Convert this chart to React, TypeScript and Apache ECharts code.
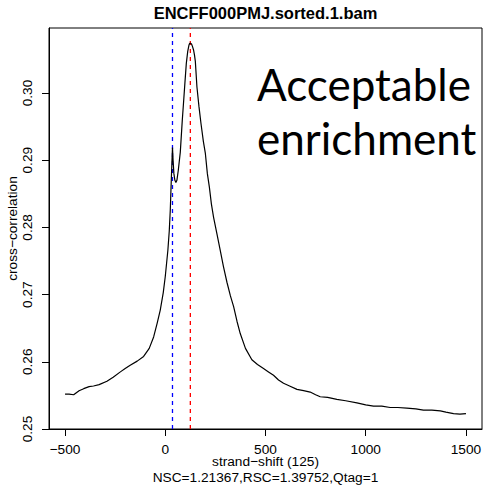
import React, { useEffect, useRef } from "react";
import * as echarts from "echarts";

const titleText = "ENCFF000PMJ.sorted.1.bam";
const xTitle = "strand\u2212shift (125)";
const xSubTitle = "NSC=1.21367,RSC=1.39752,Qtag=1";
const yTitle = "cross\u2212correlation";
const noteLines = ["Acceptable", "enrichment"];

const xTicks = [-500, 0, 500, 1000, 1500];
const yTicks = [0.25, 0.26, 0.27, 0.28, 0.29, 0.3];

const yMin = 0.25;
const yMax = 0.30967;

const readLength = 36;
const fragmentLength = 125;

const shifts = [
  -500, -480, -457, -430, -407, -380, -358, -330, -291, -260, -224, -200, -175, -140, -108, -80, -58, -40, -25, -10,
  0, 13, 20, 25, 30, 33, 36, 39, 43, 48, 53, 58, 65, 75, 85, 91, 98, 105, 112, 118, 122, 126, 131, 136, 141, 146,
  150, 158, 168, 178, 190, 200, 210, 220, 230, 241, 258, 274, 290, 308, 325, 341, 358, 374, 400, 432, 460, 490, 515,
  540, 565, 590, 620, 657, 690, 723, 750, 773, 810, 856, 900, 956, 1000, 1039, 1080, 1122, 1160, 1205, 1250, 1288,
  1330, 1372, 1400, 1438, 1470, 1500,
];

const correlations = [
  0.2552, 0.2552, 0.2551, 0.2557, 0.256, 0.2563, 0.2564, 0.2566, 0.2571, 0.2577, 0.2585, 0.259, 0.2595, 0.2601,
  0.2608, 0.262, 0.2637, 0.2658, 0.2677, 0.2703,
  0.2727, 0.2766, 0.2795, 0.2826, 0.287, 0.2895, 0.2919, 0.29, 0.288, 0.287, 0.2867, 0.287, 0.2885, 0.2912, 0.296,
  0.2985, 0.3015, 0.3044, 0.3062, 0.3071, 0.3074, 0.3074, 0.3073, 0.3069, 0.3064, 0.3056,
  0.3047, 0.3009, 0.298, 0.2955, 0.2928, 0.291, 0.288, 0.286, 0.2835, 0.2815, 0.279, 0.2766, 0.2742, 0.2718, 0.2698,
  0.2682, 0.266, 0.2642, 0.262, 0.2603, 0.2596, 0.259, 0.2585,
  0.258, 0.2573, 0.2568, 0.2564, 0.2559, 0.2557, 0.2555, 0.2551, 0.2548, 0.2547, 0.2544, 0.2542, 0.2539, 0.2536,
  0.2534, 0.2534, 0.2532, 0.2532, 0.2531, 0.253, 0.2528,
  0.2528, 0.2527, 0.2525, 0.2523, 0.2522, 0.2523,
];

const FONT = "'Liberation Sans', Arial, Helvetica, sans-serif";
const NOTE_FONT = "Lato, 'Open Sans', sans-serif";

export default function App() {
  const ref = useRef<HTMLDivElement>(null);
  useEffect(() => {
    if (!ref.current) return;
    const chart = echarts.init(ref.current, null, { renderer: "svg" });
    const data = shifts.map((s, i) => [s, correlations[i]]);
    const vline = (x: number, color: string) => ({
      type: "line",
      data: [
        [x, yMin],
        [x, yMax],
      ],
      symbol: "none",
      showSymbol: false,
      silent: true,
      z: 1,
      color,
      itemStyle: { color },
      lineStyle: { color, type: [4, 4], width: 1.3 },
    });
    chart.setOption({
      animation: false,
      backgroundColor: "#ffffff",
      title: {
        text: titleText,
        left: 265.5,
        top: 4,
        textAlign: "center",
        padding: 0,
        textStyle: { fontFamily: FONT, fontSize: 16.5, fontWeight: "bold", color: "#000" },
      },
      grid: {
        left: 49,
        right: 2,
        top: 28,
        bottom: 59,
        containLabel: false,
        outerBoundsMode: "none",
        show: true,
        borderColor: "#000",
        borderWidth: 1,
        backgroundColor: "transparent",
      },
      xAxis: {
        type: "value",
        min: -580,
        max: 1580,
        name: xTitle + "\n" + xSubTitle,
        nameLocation: "middle",
        nameMoveOverlap: false,
        nameGap: 24,
        nameTextStyle: { fontFamily: FONT, fontSize: 13.7, color: "#000", lineHeight: 16 },
        axisLine: { show: true, onZero: false, lineStyle: { color: "#000", width: 1 } },
        axisTick: { show: true, length: 7, customValues: xTicks, lineStyle: { color: "#000" } },
        axisLabel: {
          show: true,
          customValues: xTicks,
          margin: 13,
          fontFamily: FONT,
          fontSize: 13.7,
          color: "#000",
          formatter: (v: number) => String(v).replace("-", "\u2212"),
          showMinLabel: true,
          showMaxLabel: true,
        },
        splitLine: { show: false },
      },
      yAxis: {
        type: "value",
        min: yMin,
        max: yMax,
        name: yTitle,
        nameLocation: "middle",
        nameMoveOverlap: false,
        nameGap: 30,
        nameRotate: 90,
        nameTextStyle: { fontFamily: FONT, fontSize: 13.7, color: "#000" },
        axisLine: { show: true, onZero: false, lineStyle: { color: "#000", width: 1 } },
        axisTick: { show: true, length: 7, customValues: yTicks, lineStyle: { color: "#000" } },
        axisLabel: {
          show: true,
          customValues: yTicks,
          rotate: 90,
          margin: 15,
          fontFamily: FONT,
          fontSize: 13.7,
          color: "#000",
          formatter: (v: number) => v.toFixed(2),
          showMinLabel: true,
          showMaxLabel: true,
        },
        splitLine: { show: false },
      },
      series: [
        vline(readLength, "#0000ff"),
        vline(fragmentLength, "#ff0000"),
        {
          type: "line",
          data,
          showSymbol: false,
          symbol: "none",
          smooth: false,
          z: 2,
          color: "#000",
          lineStyle: { color: "#000", width: 1.2 },
        },
      ],
      graphic: [
        {
          type: "text",
          left: 257,
          top: 62,
          z: 10,
          style: { text: noteLines[0], fontFamily: NOTE_FONT, fontSize: 44, fill: "#000" },
        },
        {
          type: "text",
          left: 257,
          top: 116,
          z: 10,
          style: { text: noteLines[1], fontFamily: NOTE_FONT, fontSize: 44, fill: "#000" },
        },
      ],
    });
    return () => chart.dispose();
  }, []);
  return (
    <div
      ref={ref}
      style={{ position: "fixed", left: 0, top: 0, width: 484, height: 488, background: "#fff" }}
    />
  );
}
